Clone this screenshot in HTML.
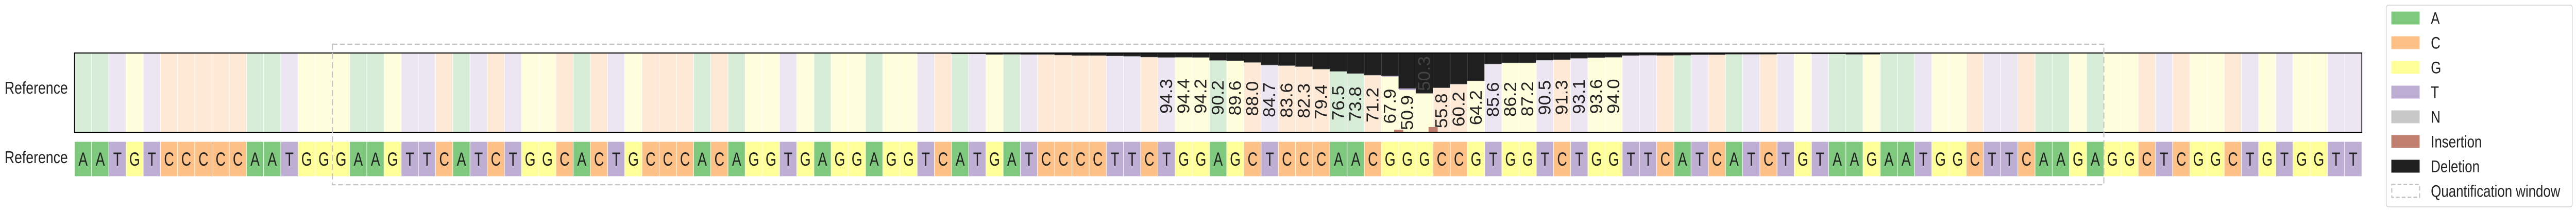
<!DOCTYPE html>
<html><head><meta charset="utf-8">
<style>
html,body{margin:0;padding:0;background:#fff;width:100%;height:100%;overflow:hidden;}
svg{display:block;width:100vw;height:100vh;font-family:"Liberation Sans",Arial,sans-serif;}
</style></head>
<body>
<svg id="chart" viewBox="0 0 6194 412" preserveAspectRatio="none" xmlns="http://www.w3.org/2000/svg">
  <text x="11" y="182" font-size="33" fill="#222">Reference</text>
  <text x="11" y="317" font-size="33" fill="#222">Reference</text>
  <g id="plot"></g>
  <g id="refrow"></g>
  <rect id="qwin" fill="none" stroke="#c4c4c4" stroke-width="2.5" stroke-dasharray="12,6"/>
  <g id="legend">
    <rect x="5738" y="10" width="447" height="392" rx="5" fill="#fff" stroke="#d0d0d0" stroke-width="1.5"/>
  </g>
</svg>
<script>
// ---- data ----
const sequence = "AATGTCCCCCAATGGGAAGTTCATCTGGCACTGCCCACAGGTGAGGAGGTCATGATCCCCTTCTGGAGCTCCCAACGGGCCGTGGTCTGGTTCATCATCTGTAAGAATGGCTTCAAGAGGCTCGGCTGTGGTT";
const deletionIdx = [49,50,51,52,53,54,55,56,57,58,59,60,61,62,63,64,65,66,67,68,69,70,71,72,73,74,75,76,77,78,79,80,81,82,83,84,85,86,87,88,89,90,91,92,93,94,95,96,97,98,99,100,101,102,103,104];
const deletionPct = [0.5,0.5,1,1,1.7,1.5,1.7,1.7,2.4,3,3,3.5,3.9,5.0,5.4,5.2,5.4,9.1,9.6,11.7,15.0,15.7,17.0,20.2,23.0,25.7,27.8,28.9,44.8,50.7,43.7,39.1,35.0,13.7,12.2,12.2,8.9,8.3,6.5,5.7,5.2,3.0,2.6,2.9,2.6,2.0,2.0,1.4,1.4,1.4,0.8,0.8,1.0,1.0,1.5,1.5];
const substIdx = [76,77];
const substPct = [1.0,2.0];
const insertionAfter = [76,78];
const insertionPct = [3.2,6.5];
const labelStart = 63;
const labelValues = ["94.3","94.4","94.2","90.2","89.6","88.0","84.7","83.6","82.3","79.4","76.5","73.8","71.2","67.9","50.9","50.3","55.8","60.2","64.2","85.6","86.2","87.2","90.5","91.3","93.1","93.6","94.0"];
const windowStart = 15, windowEnd = 118;
const legendLabels = ["A","C","G","T","N","Insertion","Deletion","Quantification window"];

// ---- layout ----
const NS="http://www.w3.org/2000/svg";
const X0=179, X1=5679, PT=103, PB=257, RT=275, RB=343;
const n=sequence.length, cw=(X1-X0)/n;
const xs=i=>X0+i*cw;
const yPct=p=>PT+(PB-PT)*p/100;
const full={A:"#7fc97f",C:"#fdc086",G:"#ffff99",T:"#beaed4",N:"#c8c8c8"};
const light={A:"#d8edd8",C:"#fee9d7",G:"#fffedc",T:"#ebe6f2",N:"#eee"};
function el(tag,attrs,parent){const e=document.createElementNS(NS,tag);for(const k in attrs)e.setAttribute(k,attrs[k]);parent.appendChild(e);return e;}
const plot=document.getElementById('plot'), ref=document.getElementById('refrow');
const del=new Array(n).fill(0); deletionIdx.forEach((d,j)=>del[d]=deletionPct[j]);
const sub=new Array(n).fill(0); substIdx.forEach((d,j)=>sub[d]=substPct[j]);

for(let i=0;i<n;i++){
  const b=sequence[i];
  const yd=yPct(del[i]);
  const bg=el('rect',{x:xs(i),y:yd,width:cw,height:PB-yd,fill:light[b],stroke:"#fff","stroke-width":1.2},plot);
  
  
  if(del[i]>0){
    const r=el('rect',{x:xs(i),y:PT,width:cw,height:yd-PT,fill:"#1f1f1f",stroke:"#444","stroke-width":1},plot);
    
    
  }
  if(sub[i]>0){
    const s=el('rect',{x:xs(i)+1,y:yd,width:cw-2,height:yPct(sub[i])-PT,fill:full.T},plot);
    
    
  }
  const rc=el('rect',{x:xs(i),y:RT,width:cw,height:RB-RT,fill:full[b],stroke:"#fff","stroke-width":1.2},ref);
  
  
  const t=el('text',{transform:`translate(${xs(i)+cw/2},${RT+47}) scale(0.9,1)`,"text-anchor":"middle","font-size":37,fill:"#222"},ref);
  t.textContent=b;
  
  
}
insertionAfter.forEach((p,j)=>{
  const h=yPct(insertionPct[j])-PT, w=cw*0.53;
  const r=el('rect',{x:xs(p+1)-w/2,y:PB-h,width:w,height:h,fill:"#c17f70"},plot);
  
  
});
labelValues.forEach((v,j)=>{
  const i=labelStart+j, val=parseFloat(v);
  let cy=256.5-0.737*val, col="#222";
  if(val<=del[i]){cy=PT+40;col="#444";}
  const t=el('text',{transform:`translate(${xs(i)+cw/2},${cy}) rotate(-90) scale(0.85,1)`,"text-anchor":"middle","dominant-baseline":"central","font-size":41,fill:col},plot);
  t.textContent=v;
  
  
});
const fr=el('rect',{x:X0,y:PT,width:X1-X0,height:PB-PT,fill:"none",stroke:"#000","stroke-width":2},plot);


const q=document.getElementById('qwin');
q.setAttribute('x',xs(windowStart));q.setAttribute('y',86);
q.setAttribute('width',xs(windowEnd)-xs(windowStart));q.setAttribute('height',273);

// legend
const lg=document.getElementById('legend');
const legendColors=[full.A,full.C,full.G,full.T,full.N,"#c17f70","#1f1f1f",null];
legendLabels.forEach((lab,j)=>{
  const cy=35+48*j;
  let p;
  if(legendColors[j]) p=el('rect',{x:5750,y:cy-12.5,width:68,height:25,fill:legendColors[j]},lg);
  else p=el('rect',{x:5751,y:cy-12.5,width:67,height:25,fill:"none",stroke:"#c4c4c4","stroke-width":2.5,"stroke-dasharray":"9,5"},lg);
  
  
  const t=el('text',{x:5845,y:cy+11.5,"font-size":32,fill:"#222"},lg);
  t.textContent=lab;
  
  
});
</script>
</body></html>
